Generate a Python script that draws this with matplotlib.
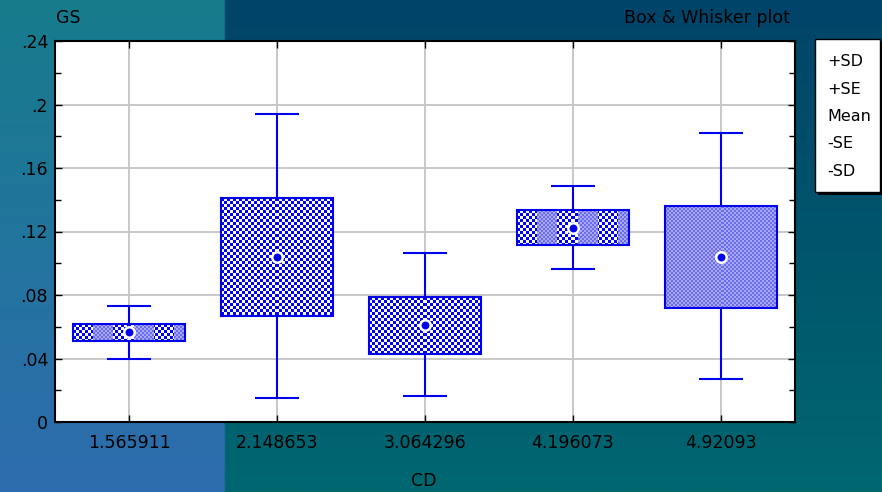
import numpy as np
import matplotlib.pyplot as plt
from matplotlib.patches import Rectangle
from matplotlib.ticker import MultipleLocator, FixedLocator

# group labels (CD) and GS statistics per group
categories = ["1.565911", "2.148653", "3.064296", "4.196073", "4.92093"]
mean = [0.0567, 0.1040, 0.0611, 0.1222, 0.1039]
plus_se = [0.0617, 0.1410, 0.0787, 0.1335, 0.1360]
minus_se = [0.0510, 0.0668, 0.0428, 0.1115, 0.0718]
plus_sd = [0.0731, 0.1940, 0.1065, 0.1487, 0.1820]
minus_sd = [0.0397, 0.0151, 0.0164, 0.0964, 0.0271]
fill_style = ["mixed", "coarse", "coarse", "mixed", "fine"]

W, H = 882, 492
fs = 12.5
fig = plt.figure(figsize=(W / 100, H / 100), dpi=100)

# two-tone gradient background
bg = fig.add_axes([0, 0, 1, 1])
bg.set_axis_off()
n = 200
t = np.linspace(0, 1, n)[:, None]
left_top, left_bot = np.array([0x17, 0x7c, 0x8c]) / 255, np.array([0x2d, 0x6c, 0xae]) / 255
right_top, right_bot = np.array([0x01, 0x44, 0x69]) / 255, np.array([0x00, 0x67, 0x70]) / 255
split = 225 / W
cols = np.linspace(0, 1, 400)
img = np.zeros((n, 400, 3))
for i, c in enumerate(cols):
    if c < split:
        img[:, i, :] = left_top * (1 - t) + left_bot * t
    else:
        img[:, i, :] = right_top * (1 - t) + right_bot * t
bg.imshow(img, extent=[0, 1, 0, 1], aspect="auto", origin="upper")
bg.set_xlim(0, 1)
bg.set_ylim(0, 1)

ax_w_px, ax_h_px = 740, 381
ax = fig.add_axes([55 / W, 1 - 422 / H, ax_w_px / W, ax_h_px / H])
ax.set_facecolor("white")
x = np.arange(len(categories))
blue = "#0000ee"
box_w = 0.76
cap_w = 0.30
px_x = ax_w_px / len(categories)   # pixels per category
px_y = ax_h_px / 0.24              # pixels per GS unit

BLUE = np.array([0.0, 0.0, 1.0])
WHITE = np.array([1.0, 1.0, 1.0])
LAV1 = np.array([0x6c, 0x6c, 0xf0]) / 255
LAV2 = np.array([0xa8, 0xa8, 0xf8]) / 255


def box_texture(nx, ny, style):
    yy, xx = np.mgrid[0:ny, 0:nx]
    coarse = ((xx // 3 + yy // 3) % 2 == 0)
    fine = ((xx // 2 + yy // 2) % 2 == 0)
    tex_c = np.where(coarse[..., None], BLUE, WHITE)
    tex_f = np.where(fine[..., None], LAV1, LAV2)
    if style == "coarse":
        return tex_c
    if style == "fine":
        return tex_f
    seg = ((xx // 20) % 2 == 0)
    return np.where(seg[..., None], tex_c, tex_f)


for i in x:
    ax.vlines(i, minus_sd[i], plus_sd[i], color=blue, lw=1.5, zorder=3)
    ax.hlines([minus_sd[i], plus_sd[i]], i - cap_w / 2, i + cap_w / 2, color=blue, lw=1.5, zorder=3)
    nx = int(round(box_w * px_x))
    ny = int(round((plus_se[i] - minus_se[i]) * px_y))
    ax.imshow(box_texture(nx, ny, fill_style[i]), aspect="auto", interpolation="nearest",
              extent=[i - box_w / 2, i + box_w / 2, minus_se[i], plus_se[i]], zorder=4)
    ax.add_patch(Rectangle((i - box_w / 2, minus_se[i]), box_w, plus_se[i] - minus_se[i],
                           facecolor="none", edgecolor=blue, lw=1.5, zorder=5))
ax.plot(x, mean, "o", color=blue, mec="white", mew=1.8, ms=7.5, zorder=6)

ax.set_xlim(-0.5, len(categories) - 0.5)
ax.set_ylim(0, 0.24)
ax.xaxis.set_major_locator(FixedLocator(x))
ax.set_xticklabels(categories)
yt = [0, 0.04, 0.08, 0.12, 0.16, 0.2, 0.24]
ax.set_yticks(yt)
ax.set_yticklabels(["0", ".04", ".08", ".12", ".16", ".2", ".24"])
ax.yaxis.set_minor_locator(MultipleLocator(0.02))
ax.grid(True, which="major", color="#c4c4c4", lw=1.3, zorder=0)
ax.set_axisbelow(True)
ax.tick_params(which="both", direction="in", top=True, right=True, length=5, width=1,
               labelsize=fs, pad=9, color="black")
ax.tick_params(axis="y", which="minor", length=4)
ax.tick_params(axis="y", pad=5)
for s in ax.spines.values():
    s.set_linewidth(1.5)

fig.text(56 / W, 1 - 18 / H, "GS", fontsize=fs, va="center", ha="left")
fig.text(790 / W, 1 - 18 / H, "Box & Whisker plot", fontsize=fs, va="center", ha="right")
fig.text(424 / W, 1 - 481 / H, "CD", fontsize=fs, va="center", ha="center")

# legend panel
fig.patches.append(Rectangle((818 / W, 1 - 195 / H), 65 / W, 153 / H, transform=fig.transFigure,
                             facecolor="black", edgecolor="none"))
fig.patches.append(Rectangle((815 / W, 1 - 192 / H), 65 / W, 153 / H, transform=fig.transFigure,
                             facecolor="white", edgecolor="black", lw=1))
for lab, yy in zip(["+SD", "+SE", "Mean", "-SE", "-SD"], [62, 89, 116, 143, 171]):
    fig.text(827 / W, 1 - yy / H, lab, fontsize=11.5, va="center", ha="left")

fig.savefig("out.png", dpi=100)
